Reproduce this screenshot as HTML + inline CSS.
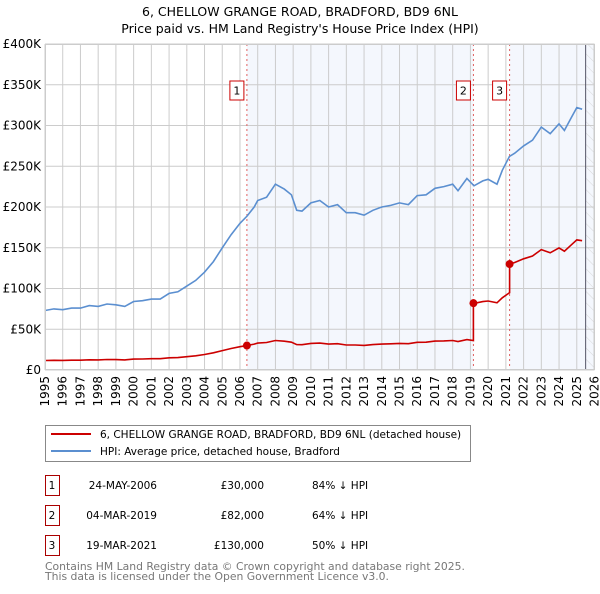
<!DOCTYPE html>
<html><head><meta charset="utf-8">
<style>
body{margin:0;background:#fff;font-family:"DejaVu Sans","Liberation Sans",sans-serif;}
svg text{font-family:"DejaVu Sans","Liberation Sans",sans-serif;}
</style></head>
<body>
<svg id="chart" width="600" height="590" viewBox="0 0 600 590" xmlns="http://www.w3.org/2000/svg">
<defs>
<pattern id="hatch" width="8" height="8" patternUnits="userSpaceOnUse" patternTransform="rotate(-45)">
<line x1="0" y1="0" x2="0" y2="8" stroke="#d0d0d0" stroke-width="0.8"/>
</pattern>
</defs>
<text x="300" y="16" text-anchor="middle" font-size="12.5">6, CHELLOW GRANGE ROAD, BRADFORD, BD9 6NL</text>
<text x="300" y="33" text-anchor="middle" font-size="12.5">Price paid vs. HM Land Registry's House Price Index (HPI)</text>
<g id="plot"></g>
<rect x="45.5" y="425.5" width="425" height="36" fill="#fff" stroke="#888"/>
<line x1="51" y1="434" x2="91" y2="434" stroke="#cc0000" stroke-width="2"/>
<text x="100" y="438" font-size="10.5">6, CHELLOW GRANGE ROAD, BRADFORD, BD9 6NL (detached house)</text>
<line x1="51" y1="451" x2="91" y2="451" stroke="#5b8fd0" stroke-width="2"/>
<text x="100" y="455" font-size="10.5">HPI: Average price, detached house, Bradford</text>
<g id="table" font-size="10.5"></g>
<text x="45" y="570" font-size="10.8" fill="#777">Contains HM Land Registry data © Crown copyright and database right 2025.</text>
<text x="45" y="580" font-size="10.8" fill="#777">This data is licensed under the Open Government Licence v3.0.</text>
</svg>
<script>
const hpiYears=[1995,1995.5,1996,1996.5,1997,1997.5,1998,1998.5,1999,1999.5,2000,2000.5,2001,2001.5,2002,2002.5,2003,2003.5,2004,2004.5,2005,2005.5,2006,2006.4,2006.8,2007,2007.5,2008,2008.5,2008.9,2009.2,2009.5,2010,2010.5,2011,2011.5,2012,2012.5,2013,2013.5,2014,2014.5,2015,2015.5,2016,2016.5,2017,2017.5,2018,2018.3,2018.8,2019.2,2019.7,2020,2020.5,2020.8,2021.2,2021.5,2022,2022.5,2023,2023.5,2024,2024.3,2024.7,2025,2025.3];
const hpiValues=[73,75,74,76,76,79,78,81,80,78,84,85,87,87,94,96,103,110,120,133,150,166,180,189,200,208,212,228,222,215,196,195,205,208,200,203,193,193,190,196,200,202,205,203,214,215,223,225,228,220,235,226,232,234,228,245,262,266,275,282,298,290,302,294,310,322,320];
const saleYears=[2006.39,2019.17,2021.21];
const salePrices=[30000,82000,130000];
const saleLabels=["1","2","3"];
const saleDates=["24-MAY-2006","04-MAR-2019","19-MAR-2021"];
const salePriceText=["£30,000","£82,000","£130,000"];
const saleHpiText=["84% ↓ HPI","64% ↓ HPI","50% ↓ HPI"];
const yTicks=[0,50,100,150,200,250,300,350,400];
const yTickLabels=["£0","£50K","£100K","£150K","£200K","£250K","£300K","£350K","£400K"];
const xStart=1995,xEnd=2026,dataEnd=2025.5;

const L=45,R=594.5,T=44,B=370;
const x=v=>L+(v-xStart)/(xEnd-xStart)*(R-L);
const y=v=>B-v/400*(B-T);
const NS="http://www.w3.org/2000/svg";
const plot=document.getElementById('plot');
function mk(tag,attrs,parent){const e=document.createElementNS(NS,tag);for(const k in attrs)e.setAttribute(k,attrs[k]);(parent||plot).appendChild(e);return e;}
function hpiAt(t){for(let i=1;i<hpiYears.length;i++){if(t<=hpiYears[i]){const f=(t-hpiYears[i-1])/(hpiYears[i]-hpiYears[i-1]);return hpiValues[i-1]+f*(hpiValues[i]-hpiValues[i-1]);}}return hpiValues[hpiValues.length-1];}

let r=mk('rect',{x:L,y:T,width:R-L,height:B-T,fill:'#fff'});


const shades=[[saleYears[0],saleYears[1]],[saleYears[2],xEnd]];
shades.forEach(s=>{const e=mk('rect',{x:x(s[0]),y:T,width:x(s[1])-x(s[0]),height:B-T,fill:'#f4f7fd'});

});
let h=mk('rect',{x:x(dataEnd),y:T,width:R-x(dataEnd),height:B-T,fill:'url(#hatch)'});


for(let yr=xStart;yr<=xEnd;yr++){const g=mk('line',{x1:x(yr),x2:x(yr),y1:T,y2:B,stroke:'#ccc','stroke-width':1});


const t=mk('text',{x:0,y:0,'font-size':12,'text-anchor':'end',transform:`translate(${x(yr)+4},${B+6}) rotate(-90)`});
t.textContent=yr;

}
yTicks.forEach((v,i)=>{const g=mk('line',{x1:L,x2:R,y1:y(v),y2:y(v),stroke:'#ccc','stroke-width':1});


const t=mk('text',{x:L-4,y:y(v)+4,'font-size':12,'text-anchor':'end'});
t.textContent=yTickLabels[i];

});
let dl=mk('line',{x1:x(dataEnd),x2:x(dataEnd),y1:T,y2:B,stroke:'#556',"stroke-width":1});



saleYears.forEach((s,i)=>{const l=mk('line',{x1:x(s),x2:x(s),y1:T,y2:B,stroke:'#e06060','stroke-width':1,'stroke-dasharray':'2,3'});

});

let pts=hpiYears.map((t,i)=>x(t).toFixed(1)+','+y(hpiValues[i]).toFixed(1)).join(' ');
let hl=mk('polyline',{points:pts,fill:'none',stroke:'#5b8fd0','stroke-width':1.6});



const ratios=saleYears.map((s,i)=>salePrices[i]/1000/hpiAt(s));
function segRatio(t){let k=0;for(let i=0;i<saleYears.length;i++)if(t>=saleYears[i])k=i;return ratios[k];}
let times=hpiYears.slice();saleYears.forEach(s=>{times.push(s-0.001);times.push(s);});times.sort((a,b)=>a-b);
let rp=times.map(t=>x(t).toFixed(1)+','+y(hpiAt(t)*segRatio(t)).toFixed(1)).join(' ');
let pl=mk('polyline',{points:rp,fill:'none',stroke:'#cc0000','stroke-width':1.6});


saleYears.forEach((s,i)=>{const c=mk('circle',{cx:x(s),cy:y(salePrices[i]/1000),r:4,fill:'#cc0000'});


const bx=mk('rect',{x:x(s)-17,y:81,width:14,height:19,fill:'#fff',stroke:'#cc0000'});


const t=mk('text',{x:x(s)-10,y:94.5,'font-size':11,'text-anchor':'middle'});
t.textContent=saleLabels[i];

});
let br=mk('rect',{x:L+0.5,y:T+0.5,width:R-L-1,height:B-T-1,fill:'none',stroke:'#ccc'});



const tbl=document.getElementById('table');
saleYears.forEach((s,i)=>{const yy=475+i*30;
const b=mk('rect',{x:45.5,y:yy+0.5,width:14,height:20,fill:'#fff',stroke:'#aa0000'},tbl);


const cells=[[52,saleLabels[i],'middle'],[157,saleDates[i],'end'],[264,salePriceText[i],'end'],[312,saleHpiText[i],'start']];
cells.forEach(c=>{const t=mk('text',{x:c[0],y:yy+14,'text-anchor':c[2]},tbl);t.textContent=c[1];

});});
</script>
</body></html>
